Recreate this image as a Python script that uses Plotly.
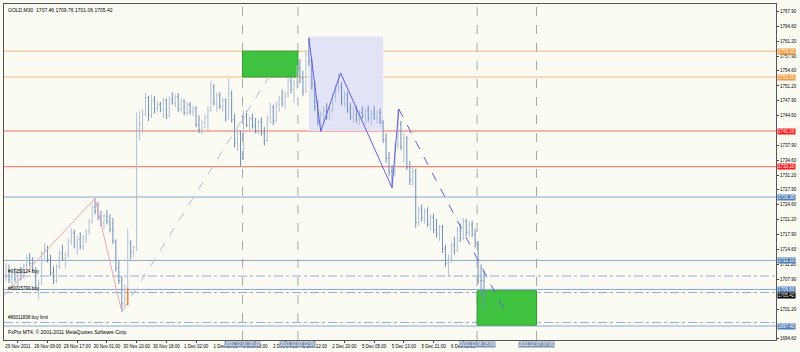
import plotly.graph_objects as go

title_text = "GOLD,M30  1707.46 1709.76 1701.06 1705.42"
copyright_text = "FxPro MT4, \u00a9 2001-2011 MetaQuotes Software Corp."

opens = [1709.0,1710.2,1707.8,1709.0,1708.0,1709.2,1708.4,1711.0,1712.6,1711.4,
 1710.0,1706.4,1707.0,1713.8,1714.6,1712.2,1709.4,1707.6,1710.8,1713.6,
 1712.6,1713.4,1716.4,1718.2,1715.6,1716.8,1715.2,1717.2,1718.6,1720.8,
 1724.0,1723.2,1721.8,1720.4,1722.0,1720.8,1719.0,1716.4,1710.4,1707.6,
 1702.4,1705.6,1716.0,1714.0,1715.0,1741.0,1742.6,1745.0,1748.6,1744.6,
 1748.0,1746.2,1747.0,1745.8,1748.0,1744.6,1748.2,1747.4,1748.8,1746.0,
 1747.8,1745.2,1747.0,1745.4,1746.2,1742.6,1741.4,1743.0,1744.2,1745.8,
 1751.0,1747.6,1749.0,1746.6,1748.0,1744.0,1749.4,1743.6,1738.4,1740.6,
 1735.0,1744.4,1742.6,1743.8,1742.2,1741.2,1743.0,1740.6,1739.0,1744.0,
 1746.4,1743.4,1747.0,1748.4,1747.4,1749.6,1752.2,1750.4,1751.8,1755.0,
 1753.0,1750.0,1758.2,1756.6,1751.4,1746.4,1743.2,1744.8,1745.6,1744.2,
 1746.2,1748.8,1750.6,1751.0,1747.6,1749.2,1746.0,1744.4,1746.0,1743.8,
 1745.2,1744.4,1745.6,1743.8,1745.0,1744.0,1745.2,1743.0,1739.2,1735.0,
 1732.0,1731.6,1737.8,1742.6,1737.6,1739.4,1733.0,1730.0,1732.0,1720.6,
 1723.6,1721.6,1723.0,1720.2,1721.8,1719.0,1718.0,1719.6,1714.6,1711.4,
 1712.6,1715.6,1714.4,1718.8,1717.0,1720.8,1718.4,1720.2,1718.0,1715.8,
 1707.6,1707.46]
highs = [1711.5,1711.2,1709.6,1710.4,1709.8,1710.6,1711.4,1713.4,1713.8,1712.8,
 1710.6,1707.8,1714.2,1716.0,1715.4,1713.4,1710.8,1711.2,1714.4,1715.6,
 1714.0,1717.0,1719.4,1719.0,1717.6,1718.4,1717.8,1719.2,1721.4,1724.6,
 1726.0,1725.2,1723.2,1722.6,1723.4,1722.4,1721.6,1716.8,1712.0,1708.6,
 1706.8,1719.2,1716.6,1715.4,1745.3,1745.6,1746.0,1749.6,1749.0,1749.2,
 1749.0,1747.8,1747.6,1748.6,1748.4,1748.8,1749.8,1749.4,1749.6,1748.4,
 1748.2,1747.6,1747.6,1746.8,1746.6,1744.6,1743.6,1744.8,1746.6,1752.4,
 1751.6,1749.6,1749.8,1748.6,1748.4,1752.8,1750.2,1745.0,1741.6,1741.2,
 1745.8,1745.6,1744.4,1745.0,1744.0,1743.6,1744.2,1742.0,1744.6,1747.4,
 1747.0,1747.6,1749.0,1750.4,1750.0,1753.0,1753.6,1752.6,1755.8,1757.2,
 1754.6,1759.0,1762.0,1757.4,1752.4,1748.0,1745.6,1746.6,1747.4,1746.8,
 1749.6,1751.4,1754.0,1752.0,1750.0,1749.8,1747.4,1746.6,1746.8,1745.8,
 1746.6,1746.2,1746.8,1745.8,1746.6,1745.8,1746.2,1743.6,1740.6,1736.4,
 1733.4,1738.6,1746.0,1743.4,1740.6,1740.0,1734.4,1733.0,1732.6,1724.2,
 1724.6,1723.8,1724.0,1722.4,1722.6,1721.4,1720.0,1720.0,1715.6,1713.4,
 1716.2,1717.4,1719.6,1720.4,1721.6,1721.4,1720.8,1721.0,1719.2,1716.4,
 1711.2,1709.76]
lows = [1707.5,1707.0,1706.4,1707.2,1706.2,1707.6,1708.0,1710.2,1710.8,1709.6,
 1705.8,1703.4,1706.6,1712.4,1711.6,1708.6,1706.8,1707.0,1710.2,1712.0,
 1710.4,1712.8,1715.6,1714.8,1713.4,1714.6,1714.4,1716.0,1717.8,1720.2,
 1722.4,1721.2,1719.6,1719.0,1720.2,1718.4,1715.8,1709.6,1706.8,1700.6,
 1701.8,1703.2,1712.4,1712.8,1714.2,1739.0,1740.6,1744.4,1743.4,1744.0,
 1745.0,1745.2,1745.4,1744.0,1743.8,1744.2,1747.0,1746.4,1745.4,1745.2,
 1744.6,1744.6,1744.8,1744.4,1742.0,1740.6,1740.4,1741.8,1741.2,1745.4,
 1746.8,1745.4,1746.0,1745.4,1743.2,1743.6,1743.0,1737.4,1736.6,1733.2,
 1734.6,1742.0,1741.2,1741.6,1740.6,1740.4,1740.0,1737.8,1738.6,1742.8,
 1742.4,1743.0,1745.4,1746.6,1746.0,1748.6,1749.6,1747.4,1750.6,1751.8,
 1749.0,1749.6,1755.6,1750.4,1745.6,1742.4,1741.0,1743.2,1743.6,1743.4,
 1745.2,1747.6,1749.8,1746.8,1746.4,1745.2,1743.6,1743.0,1743.0,1742.4,
 1743.8,1742.6,1743.2,1742.4,1743.6,1742.8,1742.6,1738.4,1734.0,1731.0,
 1728.4,1731.0,1737.0,1736.8,1734.0,1732.4,1729.0,1728.8,1719.4,1719.8,
 1720.8,1720.4,1719.6,1718.8,1718.2,1717.2,1716.4,1713.8,1710.6,1708.4,
 1711.6,1713.4,1714.0,1716.2,1716.6,1717.6,1717.4,1717.4,1715.0,1706.8,
 1704.0,1701.06]
closes = [1710.2,1707.8,1709.0,1708.0,1709.2,1708.4,1711.0,1712.6,1711.4,1710.0,
 1706.4,1707.0,1713.8,1714.6,1712.2,1709.4,1707.6,1710.8,1713.6,1712.6,
 1713.4,1716.4,1718.2,1715.6,1716.8,1715.2,1717.2,1718.6,1720.8,1724.0,
 1723.2,1721.8,1720.4,1722.0,1720.8,1719.0,1716.4,1710.4,1707.6,1702.4,
 1705.6,1716.0,1714.0,1715.0,1741.0,1742.6,1745.0,1748.6,1744.6,1748.0,
 1746.2,1747.0,1745.8,1748.0,1744.6,1748.2,1747.4,1748.8,1746.0,1747.8,
 1745.2,1747.0,1745.4,1746.2,1742.6,1741.4,1743.0,1744.2,1745.8,1751.0,
 1747.6,1749.0,1746.6,1748.0,1744.0,1749.4,1743.6,1738.4,1740.6,1735.0,
 1744.4,1742.6,1743.8,1742.2,1741.2,1743.0,1740.6,1739.0,1744.0,1746.4,
 1743.4,1747.0,1748.4,1747.4,1749.6,1752.2,1750.4,1751.8,1755.0,1753.0,
 1750.0,1758.2,1756.6,1751.4,1746.4,1743.2,1744.8,1745.6,1744.2,1746.2,
 1748.8,1750.6,1751.0,1747.6,1749.2,1746.0,1744.4,1746.0,1743.8,1745.2,
 1744.4,1745.6,1743.8,1745.0,1744.0,1745.2,1743.0,1739.2,1735.0,1732.0,
 1731.6,1737.8,1742.6,1737.6,1739.4,1733.0,1730.0,1732.0,1720.6,1723.6,
 1721.6,1723.0,1720.2,1721.8,1719.0,1718.0,1719.6,1714.6,1711.4,1712.6,
 1715.6,1714.4,1718.8,1717.0,1720.8,1718.4,1720.2,1718.0,1715.8,1707.6,
 1707.4,1705.42]
bar_index = list(range(len(opens)))

time_tick_idx = [4, 14, 24, 34, 44, 54, 64, 74, 84, 94, 104, 114, 124, 134, 144, 154]
time_tick_text = ["29 Nov 2011", "29 Nov 09:00", "29 Nov 17:00", "30 Nov 01:00",
                  "30 Nov 10:00", "30 Nov 18:00", "1 Dec 02:00", "1 Dec 10:00",
                  "1 Dec 18:00", "2 Dec 04:00", "2 Dec 12:00", "2 Dec 20:00",
                  "5 Dec 05:00", "5 Dec 13:00", "5 Dec 21:00", "6 Dec 05:00"]

# price-axis ticks that are not hidden behind the coloured level labels
price_ticks = [1694.60, 1701.20, 1707.90, 1711.20, 1714.60, 1717.90,
               1721.20, 1724.60, 1727.90, 1731.20, 1734.60, 1737.90, 1744.60,
               1747.90, 1751.20, 1754.60, 1757.90, 1761.20, 1764.60, 1767.90]

orange_levels = [1759.0, 1753.2]
red_levels = [1741.1, 1733.1]
blue_levels = [1726.3, 1712.1, 1705.6, 1697.4]
order_levels = [1708.6, 1704.9, 1698.2]
order_labels = ["#97250124 buy", "#80015799 buy", "#80011838 buy limit"]
bid_price = 1705.42

vline_idx = [79.67, 98.33, 158.67, 178.67]
vline_labels = ["2011.12.01 20:30", "2011.12.02 12:00", "2011.12.06 15:00", "2011.12.07 07:00"]

pink_x = [-0.7, 30, 39]
pink_y = [1704.2, 1726.0, 1700.6]
gray_x = [39, 88.5]
gray_y = [1700.6, 1753.2]
zz_x = [102, 106, 112.7, 130, 132.3]
zz_y = [1762.0, 1741.0, 1754.1, 1728.4, 1746.0]
zzd_x = [132.3, 167.7]
zzd_y = [1746.0, 1701.1]
mark_x = [41, 41]
mark_y = [1706.0, 1702.0]

lav_box = dict(x0=102, x1=127, y0=1741.1, y1=1762.3)
green_boxes = [dict(x0=79.67, x1=98.33, y0=1753.2, y1=1759.0),
               dict(x0=158.67, x1=178.67, y0=1697.6, y1=1705.3)]

x_range = [-0.67, 259.33]
y_range = [1694.27, 1769.56]

FONT = "Liberation Sans"
BG = "#fbfbf3"

fig = go.Figure()

shapes = []
shapes.append(dict(type="rect", xref="x", yref="y", layer="below",
                   fillcolor="#e3e3f8", line=dict(width=0), **lav_box))
for b in green_boxes:
    shapes.append(dict(type="rect", xref="x", yref="y", layer="below",
                       fillcolor="#3fc23f", line=dict(color="#2c9e2c", width=1), **b))
for v in orange_levels:
    shapes.append(dict(type="line", xref="paper", yref="y", x0=0, x1=1, y0=v, y1=v,
                       layer="below", line=dict(color="#f6b97a", width=1)))
for v in red_levels:
    shapes.append(dict(type="line", xref="paper", yref="y", x0=0, x1=1, y0=v, y1=v,
                       layer="below", line=dict(color="#f26a5a", width=1)))
for v in blue_levels:
    shapes.append(dict(type="line", xref="paper", yref="y", x0=0, x1=1, y0=v, y1=v,
                       layer="below", line=dict(color="#86a9d4", width=1)))
for v in order_levels:
    shapes.append(dict(type="line", xref="paper", yref="y", x0=0, x1=1, y0=v, y1=v,
                       layer="below", line=dict(color="#8fb0d8", width=1, dash="dashdot")))
for v in vline_idx:
    shapes.append(dict(type="line", xref="x", yref="paper", x0=v, x1=v, y0=0, y1=1,
                       layer="below", line=dict(color="#a8a8a8", width=1, dash="dash")))

fig.add_trace(go.Ohlc(x=bar_index, open=opens, high=highs, low=lows, close=closes,
                      increasing=dict(line=dict(color="#adc0d6", width=1)),
                      decreasing=dict(line=dict(color="#6e8ebd", width=1)),
                      tickwidth=0.3, hoverinfo="skip", showlegend=False))

fig.add_trace(go.Scatter(x=pink_x, y=pink_y, mode="lines",
                         line=dict(color="#f3a3b3", width=1), hoverinfo="skip", showlegend=False))
fig.add_trace(go.Scatter(x=gray_x, y=gray_y, mode="lines",
                         line=dict(color="#b4c0d0", width=1, dash="dash"), hoverinfo="skip", showlegend=False))
fig.add_trace(go.Scatter(x=zz_x, y=zz_y, mode="lines",
                         line=dict(color="#5e5ee0", width=1), hoverinfo="skip", showlegend=False))
fig.add_trace(go.Scatter(x=zzd_x, y=zzd_y, mode="lines",
                         line=dict(color="#5e5ee0", width=1, dash="dash"), hoverinfo="skip", showlegend=False))
fig.add_trace(go.Scatter(x=mark_x, y=mark_y, mode="lines",
                         line=dict(color="#ff7a30", width=1.5), hoverinfo="skip", showlegend=False))

ann = []
ann.append(dict(text=title_text, xref="paper", yref="paper", x=0.003, y=0.997,
                xanchor="left", yanchor="top", showarrow=False,
                font=dict(family=FONT, size=5, color="#000000")))
ann.append(dict(text=copyright_text, xref="paper", yref="paper", x=0.003, y=0.01,
                xanchor="left", yanchor="bottom", showarrow=False,
                font=dict(family=FONT, size=5, color="#000000")))
for v, t in zip(order_levels, order_labels):
    ann.append(dict(text=t, xref="paper", yref="y", x=0.003, y=v, xanchor="left",
                    yanchor="bottom", showarrow=False, yshift=0,
                    font=dict(family=FONT, size=4.5, color="#000000")))

def level_label(v, bg, shift=0):
    return dict(text=f"{v:.2f}", xref="paper", yref="y", x=1, y=v, xanchor="left",
                yanchor="middle", xshift=1, yshift=shift, showarrow=False, bgcolor=bg,
                borderpad=0, font=dict(family=FONT, size=4.5, color="#ffffff"))

for v in orange_levels:
    ann.append(level_label(v, "#f39a3c"))
for v in red_levels:
    ann.append(level_label(v, "#ff1a1a"))
for v in blue_levels:
    ann.append(level_label(v, "#4f7fb8"))
ann.append(level_label(bid_price, "#000000", shift=-5))
for v, t in zip(vline_idx, vline_labels):
    ann.append(dict(text=t, xref="x", yref="paper", x=v, y=0, xanchor="center",
                    yanchor="top", yshift=-1, showarrow=False, bgcolor="#7b93b5", borderpad=0,
                    font=dict(family=FONT, size=4.5, color="#ffffff")))

fig.update_layout(
    width=800, height=352,
    margin=dict(l=3, r=17, t=3, b=8),
    paper_bgcolor=BG, plot_bgcolor=BG,
    shapes=shapes, annotations=ann, showlegend=False,
    xaxis=dict(range=x_range, showgrid=False, zeroline=False, rangeslider=dict(visible=False),
               tickmode="array", tickvals=time_tick_idx, ticktext=time_tick_text,
               ticks="outside", ticklen=2, tickcolor="#444", showline=True, mirror=True,
               linecolor="#555555", linewidth=1,
               tickfont=dict(family=FONT, size=4.5, color="#000000")),
    yaxis=dict(range=y_range, side="right", showgrid=False, zeroline=False,
               tickmode="array", tickvals=price_ticks,
               ticktext=[f"{v:.2f}" for v in price_ticks],
               ticks="outside", ticklen=2, tickcolor="#444", showline=True, mirror=True,
               linecolor="#555555", linewidth=1,
               tickfont=dict(family=FONT, size=4.5, color="#000000")),
)

fig.write_html("out.html")
